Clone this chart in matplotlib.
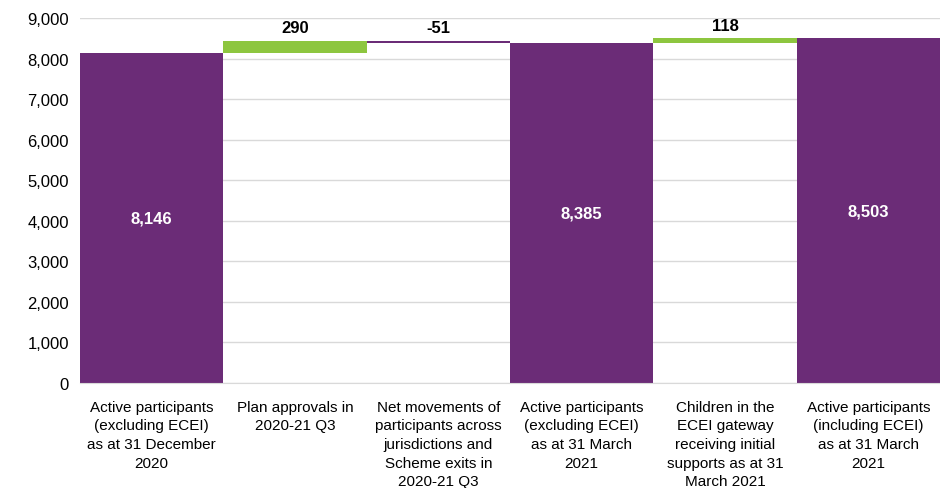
import matplotlib.pyplot as plt
from matplotlib.ticker import FuncFormatter

plt.rcParams['font.family'] = ['Liberation Sans', 'DejaVu Sans']

# Data
categories = ['Active participants\n(excluding ECEI)\nas at 31 December\n2020',
              'Plan approvals in\n2020-21 Q3',
              'Net movements of\nparticipants across\njurisdictions and\nScheme exits in\n2020-21 Q3',
              'Active participants\n(excluding ECEI)\nas at 31 March\n2021',
              'Children in the\nECEI gateway\nreceiving initial\nsupports as at 31\nMarch 2021',
              'Active participants\n(including ECEI)\nas at 31 March\n2021']
values = [8146, 290, -51, 8385, 118, 8503]
is_total = [True, False, False, True, False, True]

purple = '#6B2C77'
green = '#8DC63F'

fig = plt.figure(figsize=(9.4, 4.89), dpi=100)
ax = fig.add_axes([0.085, 0.2147, 0.915, 0.7463])

running = 0
for i, (v, tot) in enumerate(zip(values, is_total)):
    if tot:
        ax.bar(i, v, width=1.0, color=purple, zorder=2)
        ax.text(i, v / 2, f'{v:,}', ha='center', va='center', color='white',
                fontsize=12, fontweight='bold', zorder=3)
        running = v
    else:
        bottom = running if v >= 0 else running + v
        ax.bar(i, abs(v), bottom=bottom, width=1.0,
               color=green if v >= 0 else purple, zorder=2)
        top = running + v if v >= 0 else running
        ax.annotate(f'{v:,}', (i, top), xytext=(0, 4), textcoords='offset points',
                    ha='center', va='bottom', fontsize=12, fontweight='bold')
        running += v

ax.set_xlim(-0.5, len(values) - 0.5)
ax.set_ylim(0, 9000)
ax.set_yticks(range(0, 9001, 1000))
ax.yaxis.set_major_formatter(FuncFormatter(lambda x, p: f'{int(x):,}'))
ax.set_xticks(range(len(values)))
ax.set_xticklabels(categories, fontsize=11, linespacing=1.42)
ax.tick_params(axis='y', labelsize=12, length=0, pad=8)
ax.tick_params(axis='x', length=0, pad=12)
ax.grid(axis='y', color='#D9D9D9', linewidth=1, zorder=0)
for s in ['top', 'right', 'left']:
    ax.spines[s].set_visible(False)
ax.spines['bottom'].set_color('#D9D9D9')

fig.savefig('out.png', dpi=100)
